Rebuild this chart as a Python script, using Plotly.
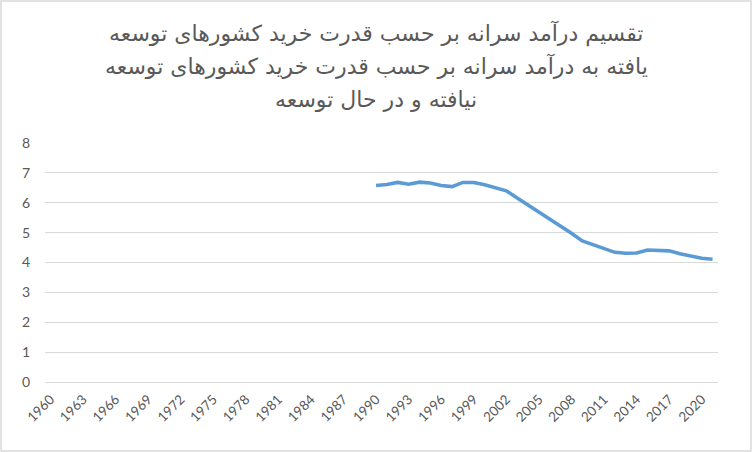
import plotly.graph_objects as go

years = list(range(1990, 2022))
ratio = [6.58, 6.61, 6.68, 6.62, 6.69, 6.66, 6.58, 6.54, 6.68, 6.68,
         6.60, 6.50, 6.40, 6.16, 5.93, 5.69, 5.44, 5.22, 4.98, 4.72,
         4.60, 4.47, 4.34, 4.31, 4.32, 4.42, 4.42, 4.39, 4.29, 4.21,
         4.14, 4.11]
tick_years = list(range(1960, 2021, 3))
y_ticks = list(range(0, 9))
title_lines = [
    "تقسیم درآمد سرانه بر حسب قدرت خرید کشورهای توسعه",
    "یافته به درآمد سرانه بر حسب قدرت خرید کشورهای توسعه",
    "نیافته و در حال توسعه",
]

W, H = 752, 452
ML, MR, MT, MB = 45, 34, 143, 70
PW, PH = W - ML - MR, H - MT - MB

fig = go.Figure()
fig.add_trace(go.Scatter(
    x=years, y=ratio, mode="lines",
    line=dict(color="#5B9BD5", width=3.6),
    hoverinfo="x+y", showlegend=False,
))

title_y_px = [33, 66, 99]
for txt, ypx in zip(title_lines, title_y_px):
    fig.add_annotation(
        text=txt, xref="paper", yref="paper",
        x=(376 - ML) / PW, y=1 + (MT - ypx) / PH,
        xanchor="center", yanchor="middle", showarrow=False,
        font=dict(family="DejaVu Sans, sans-serif",
                  size=22, color="#595959"),
    )

# chart border
fig.add_shape(type="rect", xref="paper", yref="paper",
              x0=(-ML + 1) / PW, x1=1 + (MR - 1) / PW,
              y0=(-MB + 1) / PH, y1=1 + (MT - 1) / PH,
              line=dict(color="#d9d9d9", width=1.5), layer="below")

fig.update_layout(
    width=W, height=H,
    margin=dict(l=ML, r=MR, t=MT, b=MB, pad=0, autoexpand=False),
    paper_bgcolor="white", plot_bgcolor="white",
    font=dict(family="Lato, Noto Sans, sans-serif", color="#595959", size=13),
    xaxis=dict(
        range=[1959.5, 2021.5], tickvals=tick_years,
        ticktext=[str(y) for y in tick_years], tickangle=-45,
        showgrid=False, zeroline=False, showline=False,
        ticks="", tickfont=dict(size=13.5, color="#595959"),
        ticklabelstandoff=6, automargin=False,
    ),
    yaxis=dict(
        range=[0, 8], tickvals=y_ticks, showgrid=True,
        gridcolor="#d9d9d9", gridwidth=1, zeroline=True,
        zerolinecolor="#d9d9d9", zerolinewidth=1, showline=False,
        ticks="", tickfont=dict(size=14, color="#595959"),
        ticklabelstandoff=14, automargin=False,
    ),
)

fig.write_html("out.html", config={"displayModeBar": False},
               post_script="document.body.style.margin='0';")
